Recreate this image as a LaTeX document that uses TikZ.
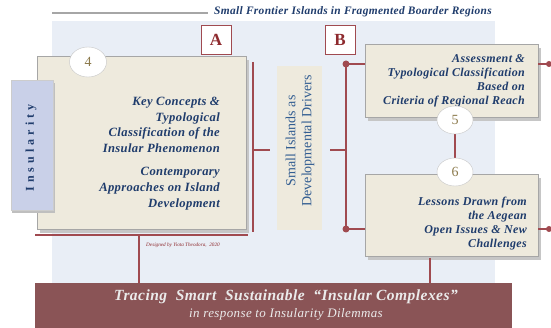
\documentclass[tikz,border=0pt]{standalone}
\usepackage{tikz}
\usepackage{color}
\usepackage{fontspec}
\setmainfont{Liberation Serif}
\newfontfamily\widefont{Liberation Serif}[LetterSpace=3]
\usetikzlibrary{shapes.geometric}
\definecolor{linered}{HTML}{A04A50}
\definecolor{textblue}{HTML}{1F3C6C}
\definecolor{midblue}{HTML}{335E92}
\definecolor{boxfill}{HTML}{EEEADD}
\definecolor{backblue}{HTML}{E9EEF6}
\definecolor{tabblue}{HTML}{C9D0E8}
\definecolor{banner}{HTML}{8A5456}
\definecolor{letterred}{HTML}{8E2A2E}
\definecolor{numgold}{HTML}{8C7A4C}
\tikzset{
  redline/.style={draw=linered,line width=2.2pt},
  beigebox/.style={draw=gray!70,fill=boxfill,line width=1pt},
  numcircle/.style={draw=gray!45,fill=white,ellipse,minimum width=36pt,minimum height=28pt,inner sep=0pt,
    text=numgold,font=\fontsize{14}{14}\selectfont},
  letterbox/.style={draw=linered,fill=white,line width=0.8pt,minimum width=30pt,minimum height=29pt,
    font=\bfseries\fontsize{17}{17}\selectfont,text=letterred,inner sep=0pt},
  bluetext/.style={text=textblue,font=\widefont\bfseries\itshape\fontsize{12.6}{15.6}\selectfont,align=right,inner sep=0pt}
}
\begin{document}
\begin{tikzpicture}[x=1pt,y=-1pt]
\useasboundingbox (0,0) rectangle (551,328);
% title
\coordinate (t1) at (52,13);
\coordinate (t2) at (208,13);
\draw[gray!70,line width=1.2pt] (t1)--(t2);
\node[anchor=west,inner sep=0pt,text=textblue,font=\widefont\bfseries\itshape\fontsize{11.4}{12}\selectfont] (title) at (214,12) {Small Frontier Islands in Fragmented Boarder Regions};
% background
\fill[backblue] (52,21) rectangle (495,283);
% box 4
\fill[gray!45] (40,60) rectangle (249,233);
\draw[beigebox] (37,57) rectangle (246,230);
\node[numcircle,minimum width=37pt,minimum height=30pt] (c4) at (88,62) {4};
\node[bluetext,anchor=north east] (txt4) at (220,97) {Key Concepts \&\\Typological\\Classification of the\\Insular Phenomenon\\[8pt]Contemporary\\Approaches on Island\\Development};
% insularity tab
\fill[gray!50] (12,83) rectangle (55,213);
\node[draw=gray!40,fill=tabblue,minimum width=42pt,minimum height=130pt,inner sep=0pt] (tab) at (32,145) {};
\node[rotate=90,text=textblue,font=\bfseries\fontsize{12}{12}\selectfont] (ins) at (31,148) {I\,\,n\,\,s\,\,u\,\,l\,\,a\,\,r\,\,i\,\,t\,\,y};
% letters
\node[letterbox] (A) at (216,40) {A};
\node[letterbox] (B) at (340,40) {B};
% bracket A
\coordinate (a1) at (253,62);
\coordinate (a2) at (253,232);
\coordinate (a3) at (253,150);
\coordinate (a4) at (270,150);
\draw[redline] (a1)--(a2);
\draw[redline] (a3)--(a4);
\coordinate (b1) at (35,235);
\coordinate (b2) at (248,235);
\coordinate (b3) at (139,235);
\coordinate (b4) at (139,284);
\draw[redline] (b1)--(b2);
\draw[redline] (b3)--(b4);
\node[anchor=west,inner sep=0pt,text=letterred,font=\itshape\fontsize{5.2}{5}\selectfont] (sig) at (146,245) {Designed by Yiota Theodora,\ \ 2020};
% middle
\fill[boxfill] (277,66) rectangle (322,230);
\node[rotate=90,text=midblue,align=center,font=\fontsize{14}{16}\selectfont] (mid) at (300,141) {Small Islands as\\Developmental Drivers};
% bracket B
\coordinate (d1) at (346,64);
\coordinate (d2) at (346,229);
\coordinate (d3) at (330,150);
\coordinate (d4) at (346,150);
\coordinate (e1) at (366,64);
\coordinate (e2) at (366,229);
\draw[redline] (d1)--(d2);
\draw[redline] (d3)--(d4);
\draw[redline] (d1)--(e1);
\draw[redline] (d2)--(e2);
\fill[linered] (d1) circle (3.5pt);
\fill[linered] (d2) circle (3.5pt);
% box 5
\fill[gray!45] (368,48) rectangle (541,121);
\draw[beigebox] (365,45) rectangle (538,118);
\node[bluetext,font=\widefont\bfseries\itshape\fontsize{12}{14}\selectfont,anchor=north east] (txt5) at (525,54) {Assessment \&\\Typological Classification\\Based on\\Criteria of Regional Reach};
% box 6
\fill[gray!45] (368,178) rectangle (541,260);
\draw[beigebox] (365,175) rectangle (538,257);
\node[bluetext,font=\widefont\bfseries\itshape\fontsize{12}{14}\selectfont,anchor=north east] (txt6) at (527,197) {Lessons Drawn from\\the Aegean\\Open Issues \& New\\Challenges};
% circles 5 and 6
\coordinate (f1) at (455,128);
\coordinate (f2) at (455,165);
\draw[redline] (f1)--(f2);
\node[numcircle] (c5) at (455,120) {5};
\node[numcircle] (c6) at (455,172) {6};
% right stubs
\coordinate (g1) at (538,64);
\coordinate (g2) at (551,64);
\coordinate (g3) at (538,229);
\coordinate (g4) at (551,229);
\draw[redline] (g1)--(g2);
\draw[redline] (g3)--(g4);
\fill[linered] (549,64) circle (3pt);
\fill[linered] (549,229) circle (3pt);
\coordinate (h1) at (430,258);
\coordinate (h2) at (430,284);
\draw[redline] (h1)--(h2);
% banner
\fill[banner] (35,283) rectangle (512,328);
\node[text=white!92!black,font=\widefont\bfseries\itshape\fontsize{15.5}{15}\selectfont,inner sep=0pt] (ban1) at (286,297) {Tracing\ \ Smart\ \ Sustainable\ \ “Insular Complexes”};
\node[text=white!92!black,font=\widefont\itshape\fontsize{13}{12}\selectfont,inner sep=0pt] (ban2) at (286,314) {in response to Insularity Dilemmas};
\end{tikzpicture}
\end{document}
